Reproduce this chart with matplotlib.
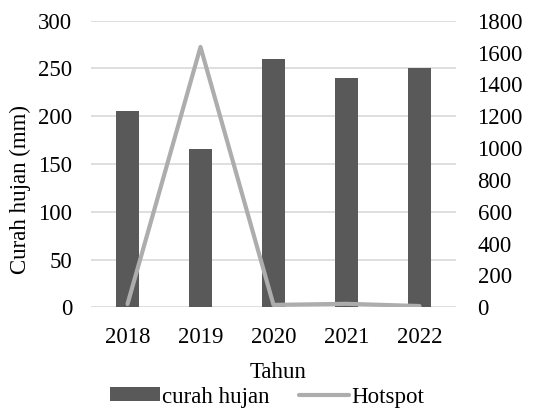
import matplotlib
matplotlib.use("Agg")
import matplotlib.pyplot as plt
from matplotlib.patches import Patch
from matplotlib.lines import Line2D
from matplotlib import font_manager
from matplotlib.font_manager import FontProperties

years = ["2018", "2019", "2020", "2021", "2022"]
curah_hujan = [206, 166, 260, 240, 250]
hotspot = [20, 1635, 15, 22, 8]
left_ticks = [0, 50, 100, 150, 200, 250, 300]
right_ticks = [0, 200, 400, 600, 800, 1000, 1200, 1400, 1600, 1800]

fs = 16.5
path = None
for want in ['Liberation Serif', 'Tinos', 'Times New Roman', 'FreeSerif', 'DejaVu Serif']:
    cands = [f for f in font_manager.fontManager.ttflist
             if f.name == want and f.style == 'normal' and f.weight in (400, 'normal', 'regular', 'book')]
    if cands:
        path = cands[0].fname
        break
if path:
    fp = FontProperties(fname=path, size=fs)
else:
    fp = FontProperties(family='serif', size=fs)

fig = plt.figure(figsize=(5.58, 4.09), dpi=100)
ax = fig.add_axes([91/558, 1-307.3/409, 365/558, 286.6/409])
x = list(range(len(years)))
bar_col = '#595959'
line_col = '#adadad'
ax.bar(x, curah_hujan, width=0.315, color=bar_col, zorder=2)
ax.set_xlim(-0.5, len(years)-0.5)
ax.set_ylim(0, 300)
ax.set_yticks(left_ticks)
ax.set_xticks(x)
ax.set_xticklabels(years)
ax.grid(axis='y', color='#d9d9d9', linewidth=1.2, zorder=0)
ax.set_axisbelow(True)
for s in ax.spines.values():
    s.set_visible(False)
ax.tick_params(length=0, labelsize=fs)
ax.tick_params(axis='y', pad=13.5)
ax.tick_params(axis='x', pad=14)
ax.set_ylabel("Curah hujan (mm)", fontproperties=fp)
ax.yaxis.set_label_coords(-0.165, (307.3-189)/286.6)
ax.set_xlabel("Tahun", fontproperties=fp)
ax.xaxis.set_label_coords((278-91)/365, (307.3-362)/286.6)

ax2 = ax.twinx()
ax2.plot(x, hotspot, color=line_col, linewidth=3, solid_capstyle='round', zorder=3)
ax2.set_ylim(0, 1800)
ax2.set_yticks(right_ticks)
for s in ax2.spines.values():
    s.set_visible(False)
ax2.tick_params(length=0, labelsize=fs, pad=15.5)

for lbl in ax.get_xticklabels() + ax.get_yticklabels() + ax2.get_yticklabels():
    lbl.set_fontproperties(fp)

handles = [Patch(facecolor=bar_col, edgecolor='none'),
           Line2D([0], [0], color=line_col, linewidth=3, solid_capstyle='round')]
fig.legend(handles, ["curah hujan", "Hotspot"], loc='center', bbox_to_anchor=(267/558, 1-397/409),
           ncol=2, frameon=False, prop=fp, handlelength=2.2, handletextpad=0.1,
           columnspacing=1.25, handleheight=0.55, borderpad=0)

fig.savefig("out.png", dpi=100)
